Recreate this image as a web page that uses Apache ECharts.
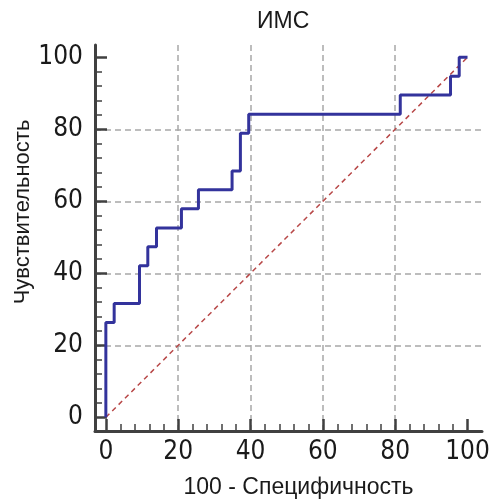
<!DOCTYPE html>
<html>
<head>
<meta charset="utf-8">
<script src="https://cdn.jsdelivr.net/npm/echarts@6/dist/echarts.min.js"></script>
<style>
html,body{margin:0;padding:0;background:#fff;}
#chart{width:492px;height:499px;}
</style>
</head>
<body>
<div id="chart"></div>
<script>
// ROC operating points (100 - specificity, sensitivity)
var fpr = [0, 0, 2.3, 9.3, 11.6, 14.0, 20.9, 25.6, 34.9, 37.2, 39.5, 81.4, 95.3, 97.7, 100];
var tpr = [0, 26.3, 31.6, 42.1, 47.4, 52.6, 57.9, 63.2, 68.4, 78.9, 84.2, 89.5, 94.7, 100, 100];
// reference diagonal
var diagX = [0, 100];
var diagY = [0, 100];
// ticks
var majorTicks = [0, 20, 40, 60, 80, 100];
var minorTicks = [4, 8, 12, 16, 24, 28, 32, 36, 44, 48, 52, 56, 64, 68, 72, 76, 84, 88, 92, 96];

var titleText = 'ИМС';
var xName = '100 - Специфичность';
var yName = 'Чувствительность';

var FONT = '"Liberation Sans", Arial, sans-serif';
var TICKFONT = '"Liberation Sans Narrow", "Arial Narrow", "DejaVu Sans Condensed", sans-serif';
var AXC = '#404040';

function mainAxis(extra) {
  var a = {
    type: 'value',
    nameMoveOverlap: false,
    axisLine: { show: true, onZero: false, lineStyle: { color: AXC, width: 3 } },
    axisTick: { show: true, inside: true, length: 12, customValues: majorTicks, lineStyle: { color: AXC, width: 2.5 } },
    splitLine: { show: true, showMinLine: false, showMaxLine: false, lineStyle: { color: '#a8a8a8', width: 1.5, type: [6, 4] } },
    minorTick: { show: false }
  };
  for (var k in extra) a[k] = extra[k];
  return a;
}
function minorAxis(extra) {
  var a = {
    type: 'value',
    axisLine: { show: false, onZero: false },
    axisTick: { show: true, inside: true, length: 7, customValues: minorTicks, lineStyle: { color: AXC, width: 1.5 } },
    axisLabel: { show: false },
    splitLine: { show: false }
  };
  for (var k in extra) a[k] = extra[k];
  return a;
}

var chart = echarts.init(document.getElementById('chart'), null, { renderer: 'canvas' });
chart.setOption({
  animation: false,
  backgroundColor: '#fff',
  title: {
    text: titleText,
    left: 252,
    top: 5,
    textStyle: { fontFamily: FONT, fontSize: 23, fontWeight: 'normal', color: '#1a1a1a' }
  },
  grid: { left: 95, right: 10, top: 45, bottom: 68, containLabel: false, outerBoundsMode: 'none' },
  xAxis: [
    mainAxis({ min: -3, max: 104, position: 'bottom', name: xName, nameLocation: 'middle', nameGap: 45,
      axisLabel: { show: true, customValues: majorTicks, fontFamily: TICKFONT, fontSize: 26, color: '#1a1a1a', margin: 8 },
      nameTextStyle: { fontFamily: FONT, fontSize: 23, color: '#1a1a1a', padding: [0, 0, 0, 20] } }),
    minorAxis({ min: -3, max: 104, position: 'bottom' })
  ],
  yAxis: [
    mainAxis({ min: -3.8, max: 103.4, position: 'left', name: yName, nameLocation: 'middle', nameGap: 61,
      axisLabel: { show: true, customValues: majorTicks, fontFamily: TICKFONT, fontSize: 26, color: '#1a1a1a', margin: 12 },
      nameTextStyle: { fontFamily: FONT, fontSize: 22, color: '#1a1a1a', padding: [0, 0, 0, 52] } }),
    minorAxis({ min: -3.8, max: 103.4, position: 'left' })
  ],
  series: [
    {
      type: 'line',
      xAxisIndex: 0, yAxisIndex: 0,
      data: diagX.map(function (x, i) { return [x, diagY[i]]; }),
      symbol: 'none',
      lineStyle: { color: '#b84848', width: 1.5, type: [5, 4] },
      z: 2
    },
    {
      type: 'line',
      xAxisIndex: 0, yAxisIndex: 0,
      data: fpr.map(function (x, i) { return [x, tpr[i]]; }),
      step: 'end',
      symbol: 'none',
      lineStyle: { color: '#33339c', width: 3 },
      z: 3
    }
  ]
});
</script>
</body>
</html>
